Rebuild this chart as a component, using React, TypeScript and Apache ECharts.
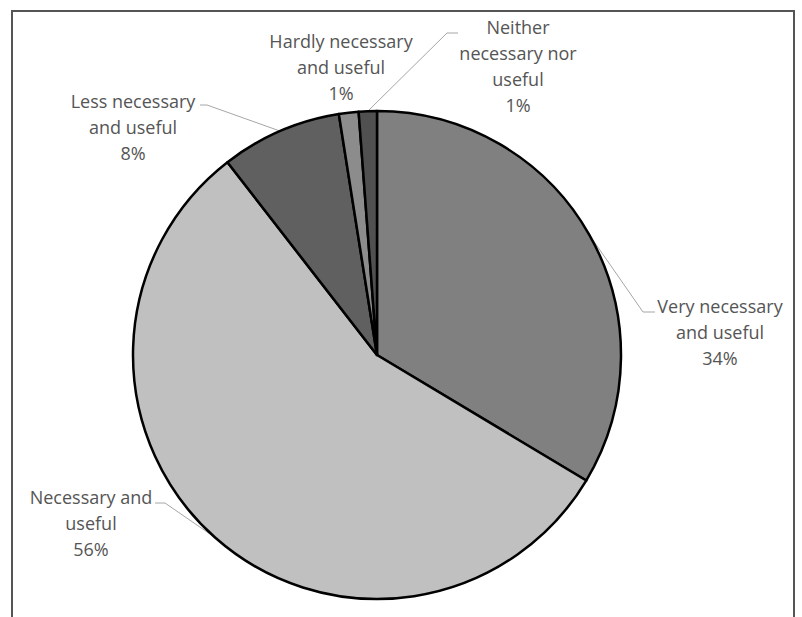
import React, { useEffect, useRef } from "react";
import * as echarts from "echarts";

// ---- data ----
const categories = [
  "Very necessary\nand useful",
  "Necessary and\nuseful",
  "Less necessary\nand useful",
  "Hardly necessary\nand useful",
  "Neither\nnecessary nor\nuseful",
];
const values = [33.6, 55.9, 8.0, 1.3, 1.2];
const colors = ["#808080", "#c0c0c0", "#606060", "#8c8c8c", "#505050"];

// ---- layout (label anchor centres and leader elbows, in px) ----
const labelCenters: number[][] = [
  [720, 332],
  [91, 523],
  [133, 127],
  [341, 67],
  [518, 66],
];
const leaderElbows: (number[][] | null)[] = [
  [[643, 312], [655, 312]],
  [[165, 503], [155, 503]],
  [[207, 105], [200, 105]],
  null,
  [[447, 33], [458, 33]],
];
const CX = 377;
const CY = 355;
const R = 244;

export default function App() {
  const ref = useRef<HTMLDivElement>(null);
  useEffect(() => {
    if (!ref.current) return;
    const chart = echarts.init(ref.current, undefined, { renderer: "svg" });
    const total = values.reduce((a, b) => a + b, 0);
    let acc = 0;
    const midPoints = values.map((v) => {
      const mid = ((acc + v / 2) / total) * Math.PI * 2;
      acc += v;
      return [CX + R * Math.sin(mid), CY - R * Math.cos(mid)];
    });
    chart.setOption({
      animation: false,
      backgroundColor: "#ffffff",
      graphic: [
        {
          type: "rect",
          shape: { x: 12, y: 11, width: 782, height: 640 },
          style: { fill: "#ffffff", stroke: "#555555", lineWidth: 2 },
          z: -10,
        },
      ],
      series: [
        {
          type: "pie",
          center: [CX, CY],
          radius: [0, R],
          startAngle: 90,
          clockwise: true,
          avoidLabelOverlap: false,
          itemStyle: { borderColor: "#000000", borderWidth: 2.5 },
          emphasis: { disabled: true },
          label: {
            show: true,
            position: "outside",
            color: "#555555",
            fontFamily: "Open Sans",
            fontSize: 18,
            lineHeight: 26,
            align: "center",
            formatter: (p: any) => `${p.name}\n${Math.round(p.percent)}%`,
          },
          labelLine: {
            show: true,
            lineStyle: { color: "#a6a6a6", width: 1 },
          },
          labelLayout: (params: any) => {
            const i = params.dataIndex;
            const c = labelCenters[i];
            const el = leaderElbows[i];
            const res: any = {
              x: c[0],
              y: c[1],
              align: "center",
              verticalAlign: "middle",
            };
            if (el) {
              res.labelLinePoints = [midPoints[i], el[0], el[1]];
            } else {
              res.labelLinePoints = [midPoints[i], midPoints[i], midPoints[i]];
            }
            return res;
          },
          data: categories.map((name, i) => ({
            name,
            value: values[i],
            itemStyle: { color: colors[i] },
            labelLine: { show: leaderElbows[i] !== null },
          })),
        },
      ],
    });
    return () => chart.dispose();
  }, []);
  return (
    <div
      ref={ref}
      style={{ position: "fixed", left: 0, top: 0, width: 802, height: 617 }}
    />
  );
}
